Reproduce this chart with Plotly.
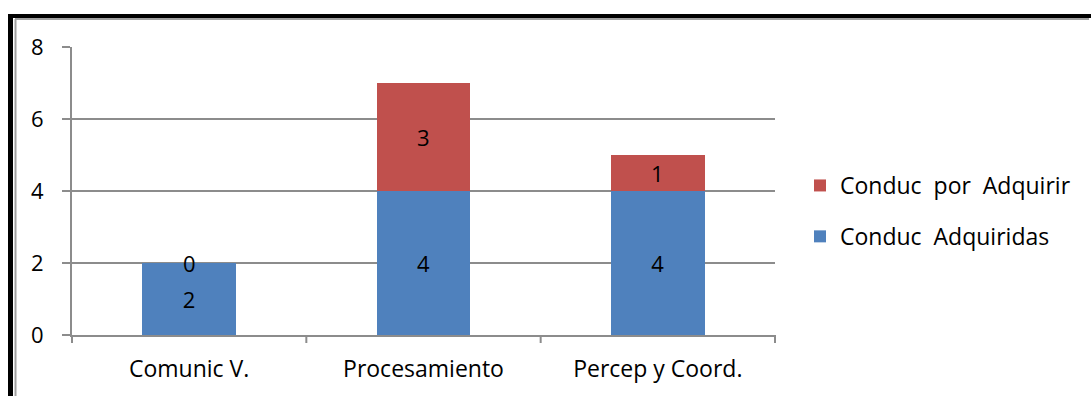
import plotly.graph_objects as go

categories = ["Comunic V.", "Procesamiento", "Percep y Coord."]
adquiridas = [2, 4, 4]
por_adquirir = [0, 3, 1]
y_ticks = [0, 2, 4, 6, 8]

W, H = 1091, 396
L, R, T, B = 72, 775, 47, 335

FONT = "'Open Sans', sans-serif"
FS = 23   # category and legend text
FN = 22   # numbers
BLUE = "#4F81BD"
RED = "#C0504D"
GRID = "#8C8C8C"

fig = go.Figure()
fig.add_trace(go.Bar(
    x=categories, y=adquiridas, name="Conduc  Adquiridas",
    marker=dict(color=BLUE, line=dict(width=0)),
    text=[str(v) for v in adquiridas], textposition="inside",
    insidetextanchor="middle", textfont=dict(color="black", size=FN, family=FONT),
    width=0.4, legendgroup="a", legendrank=2,
))
fig.add_trace(go.Bar(
    x=categories, y=por_adquirir, name="Conduc  por  Adquirir",
    marker=dict(color=RED, line=dict(width=0)),
    width=0.4, legendgroup="b", legendrank=1,
))

# labels centred on the upper segment (including the zero-height one)
for c, a, p in zip(categories, adquiridas, por_adquirir):
    fig.add_annotation(x=c, y=a + p / 2, text=str(p), showarrow=False,
                       font=dict(color="black", size=FN, family=FONT),
                       xref="x", yref="y")

px = lambda v: (v - L) / (R - L)
py = lambda v: (B - v) / (B - T)

shapes = [
    # outer frame
    dict(type="line", xref="paper", yref="paper", x0=px(10.5), x1=px(10.5), y0=py(16), y1=py(400),
         line=dict(color="black", width=5)),
    dict(type="line", xref="paper", yref="paper", x0=px(8), x1=px(1095), y0=py(16), y1=py(16),
         line=dict(color="black", width=4)),
    dict(type="line", xref="paper", yref="paper", x0=px(15.5), x1=px(15.5), y0=py(19), y1=py(400),
         line=dict(color="#A0A0A0", width=2)),
    dict(type="line", xref="paper", yref="paper", x0=px(15), x1=px(1089), y0=py(19), y1=py(19),
         line=dict(color="#A0A0A0", width=2)),
]
# category separator ticks below the x axis
for i in range(4):
    xv = i / 3
    shapes.append(dict(type="line", xref="paper", yref="paper", x0=xv, x1=xv,
                       y0=0, y1=py(343), line=dict(color=GRID, width=2)))
fig.update_layout(shapes=shapes)

fig.update_layout(
    width=W, height=H,
    margin=dict(l=L, r=W - R, t=T, b=H - B),
    barmode="stack", bargap=0.6,
    plot_bgcolor="white", paper_bgcolor="white",
    font=dict(family=FONT, size=FS, color="black"),
    showlegend=True,
    legend=dict(x=px(800), y=py(164), xanchor="left", yanchor="top",
                traceorder="grouped", font=dict(size=FS, family=FONT),
                itemwidth=30, tracegroupgap=18, itemsizing="constant"),
    xaxis=dict(showline=True, linecolor=GRID, linewidth=2, ticks="",
               ticklabelstandoff=12,
               tickfont=dict(size=FS, family=FONT), fixedrange=True),
    yaxis=dict(range=[0, 8], tickvals=y_ticks, showgrid=True, gridcolor=GRID, gridwidth=2,
               showline=True, linecolor=GRID, linewidth=2, ticks="outside", ticklen=8,
               tickcolor=GRID, tickwidth=2, ticklabelstandoff=14,
               tickfont=dict(size=FN, family=FONT), zeroline=False),
)

fig.write_html("out.html")
